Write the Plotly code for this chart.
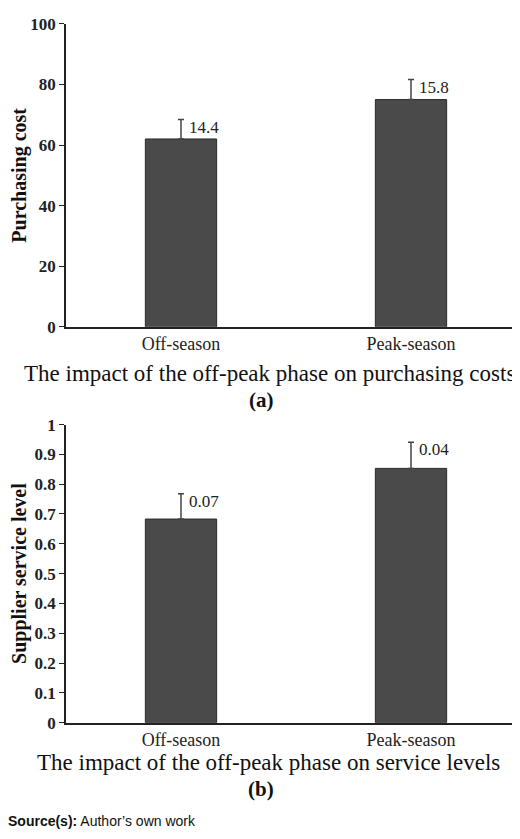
import plotly.graph_objects as go

categories = ["Off-season", "Peak-season"]
cost_values = [62.0, 75.0]
cost_err = [6.4, 6.6]
cost_labels = ["14.4", "15.8"]
service_values = [0.683, 0.853]
service_err = [0.085, 0.088]
service_labels = ["0.07", "0.04"]

W, H = 520, 839
def ydom(top, bot):
    return [1 - bot / H, 1 - top / H]

FONT = "Liberation Serif"
fig = go.Figure()
for vals, errs, labs, ax in [(cost_values, cost_err, cost_labels, ""), (service_values, service_err, service_labels, "2")]:
    fig.add_trace(go.Bar(
        x=categories, y=vals, width=0.31, xaxis="x" + ax, yaxis="y" + ax,
        marker=dict(color="#4a4a4a", line=dict(color="#2a2a2a", width=1)),
        error_y=dict(type="data", array=errs, arrayminus=[0, 0], symmetric=False,
                     color="#444444", thickness=1.5, width=3),
        showlegend=False, hoverinfo="skip"))
    for c, v, e, l in zip(categories, vals, errs, labs):
        fig.add_annotation(x=c, y=v + e, text=l, xref="x" + ax, yref="y" + ax,
                           showarrow=False, xanchor="left", yanchor="top", xshift=6, yshift=4,
                           font=dict(family=FONT, size=17, color="#222"))

xd = [58 / W, 518 / W]
axis_common = dict(showline=True, linecolor="#222", linewidth=1.5, showgrid=False,
                   ticks="outside", ticklen=5, tickcolor="#222", zeroline=False)
fig.update_layout(
    width=W, height=H, margin=dict(l=0, r=0, t=0, b=0),
    plot_bgcolor="white", paper_bgcolor="white",
    xaxis=dict(domain=xd, anchor="y", tickfont=dict(family=FONT, size=18, color="#222"),
               ticks="", showline=True, linecolor="#222", linewidth=1.5),
    yaxis=dict(domain=ydom(7, 317), range=[0, 100], dtick=20, anchor="x",
               tickfont=dict(family=FONT, size=17, color="#222", weight="bold"),
               title=dict(text="Purchasing cost", font=dict(family=FONT, size=20, color="#111", weight="bold"), standoff=6),
               **axis_common),
    xaxis2=dict(domain=xd, anchor="y2", tickfont=dict(family=FONT, size=18, color="#222"),
                ticks="", showline=True, linecolor="#222", linewidth=1.5),
    yaxis2=dict(domain=ydom(417, 722), range=[0, 1], dtick=0.1, anchor="x2",
                tickfont=dict(family=FONT, size=17, color="#222", weight="bold"),
                title=dict(text="Supplier service level", font=dict(family=FONT, size=20, color="#111", weight="bold"), standoff=6),
                **axis_common),
)

def txt(x, ypx, s, size, bold=False, anchor="center"):
    fig.add_annotation(x=x, y=1 - ypx / H, xref="paper", yref="paper", text=s, showarrow=False,
                       xanchor=anchor, yanchor="middle",
                       font=dict(family=FONT, size=size, color="#111", weight="bold" if bold else "normal"))

txt(0.503, 365, "The impact of the off-peak phase on purchasing costs", 23)
txt(0.487, 392, "(a)", 21, True)
txt(0.5, 763, "The impact of the off-peak phase on service levels", 23)
txt(0.487, 790, "(b)", 21, True)
fig.add_annotation(x=0, y=1 - 823 / H, xref="paper", yref="paper", showarrow=False,
                   xanchor="left", yanchor="middle", xshift=-2,
                   text="<b>Source(s):</b> Author’s own work",
                   font=dict(family="Liberation Sans", size=14, color="#111"))

fig.write_html("out.html")
